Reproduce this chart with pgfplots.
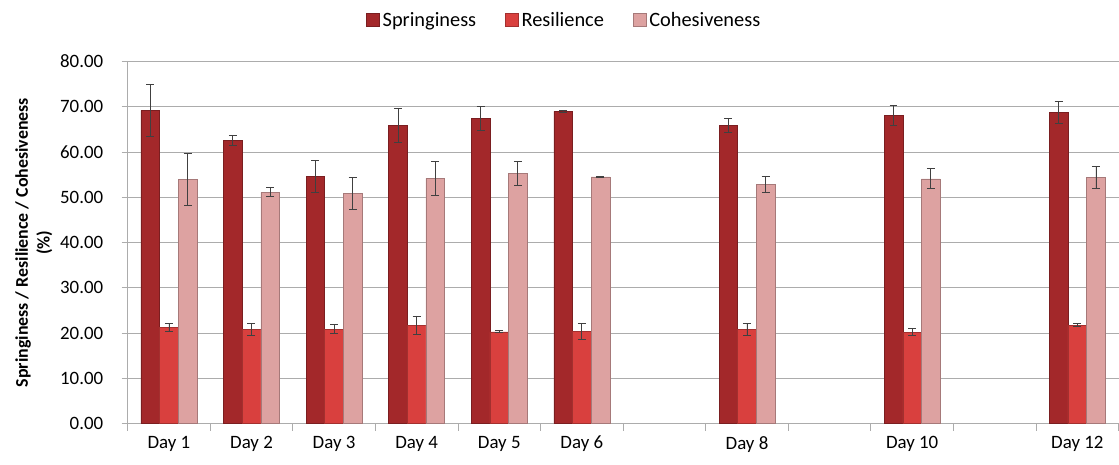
\documentclass[border=0pt]{standalone}
\usepackage{pgfplots}
\pgfplotsset{compat=1.18}
\usepackage{pgfplotstable}
\usepackage{fontspec}
\setmainfont{Carlito}

\definecolor{springc}{HTML}{A3282A}
\definecolor{resc}{HTML}{D9403E}
\definecolor{cohc}{HTML}{DDA2A1}

\pgfplotsset{errs/.style={error bars/.cd, y dir=both, y explicit,
  error bar style={black!75, line width=0.8bp},
  error mark options={rotate=90, mark size=4bp, black!75, line width=0.8bp}}}

% day, value, error for each series
\pgfplotstableread{
day  s     se   r     re   c     ce
1    69.2  5.8  21.3  0.9  53.9  5.7
2    62.5  1.1  20.8  1.4  51.1  1.0
3    54.7  3.5  20.9  1.0  50.8  3.5
4    65.9  3.8  21.8  2.0  54.2  3.8
5    67.4  2.7  20.3  0.2  55.3  2.7
6    69.0  0.2  20.4  1.8  54.5  0.2
8    65.9  1.5  20.9  1.3  52.9  1.7
10   68.1  2.2  20.2  0.8  54.1  2.2
12   68.7  2.4  21.8  0.3  54.4  2.4
}\data

\begin{document}
\begin{tikzpicture}
\begin{axis}[
  width=994bp, height=363.3bp, scale only axis,
  font=\fontsize{19}{22}\selectfont,
  xmin=0.5, xmax=12.5, ymin=0, ymax=80,
  ybar=0pt, bar width=18.7bp,
  xtick={1,2,3,4,5,6,8,10,12},
  xticklabels={Day 1,Day 2,Day 3,Day 4,Day 5,Day 6,Day 8,Day 10,Day 12},
  major x tick style={draw=none},
  minor xtick={0.5,1.5,...,12.5},
  minor tick length=7bp,
  major tick length=6bp,
  tick align=outside,
  ytick={0,10,...,80},
  ymajorgrids,
  grid style={gray!65, line width=0.8bp},
  axis x line*=bottom, axis y line*=left,
  axis line style={gray!65, line width=0.8bp},
  every tick/.style={gray!65, line width=0.8bp},
  yticklabel style={xshift=-15bp, /pgf/number format/.cd, fixed, fixed zerofill, precision=2, assume math mode=true},
  xticklabel style={yshift=-3bp},
  ylabel={Springiness / Resilience / Cohesiveness\\(\%)},
  ylabel style={align=center, font=\bfseries\fontsize{18}{22}\selectfont,
    at={(axis description cs:-0.0946,0.5)}, anchor=center},
  legend style={at={(axis description cs:0.4406,1.115)}, anchor=center,
    draw=none, legend columns=3, font=\fontsize{20.5}{24}\selectfont,
    /tikz/every odd column/.append style={column sep=1bp},
    /tikz/every even column/.append style={column sep=27bp}},
  legend image code/.code={\draw[#1] (0bp,-6.5bp) rectangle (13bp,6.5bp);},
]
\addplot[draw=springc!75!black, line width=0.5bp, fill=springc, errs]
  table[x=day, y=s, y error=se]{\data};
\addplot[draw=resc!75!black, line width=0.5bp, fill=resc, errs]
  table[x=day, y=r, y error=re]{\data};
\addplot[draw=cohc!75!black, line width=0.5bp, fill=cohc, errs]
  table[x=day, y=c, y error=ce]{\data};
\legend{Springiness, Resilience, Cohesiveness}
\end{axis}
\path (-128bp,-41bp) rectangle (994bp,425bp);
\end{tikzpicture}
\end{document}
